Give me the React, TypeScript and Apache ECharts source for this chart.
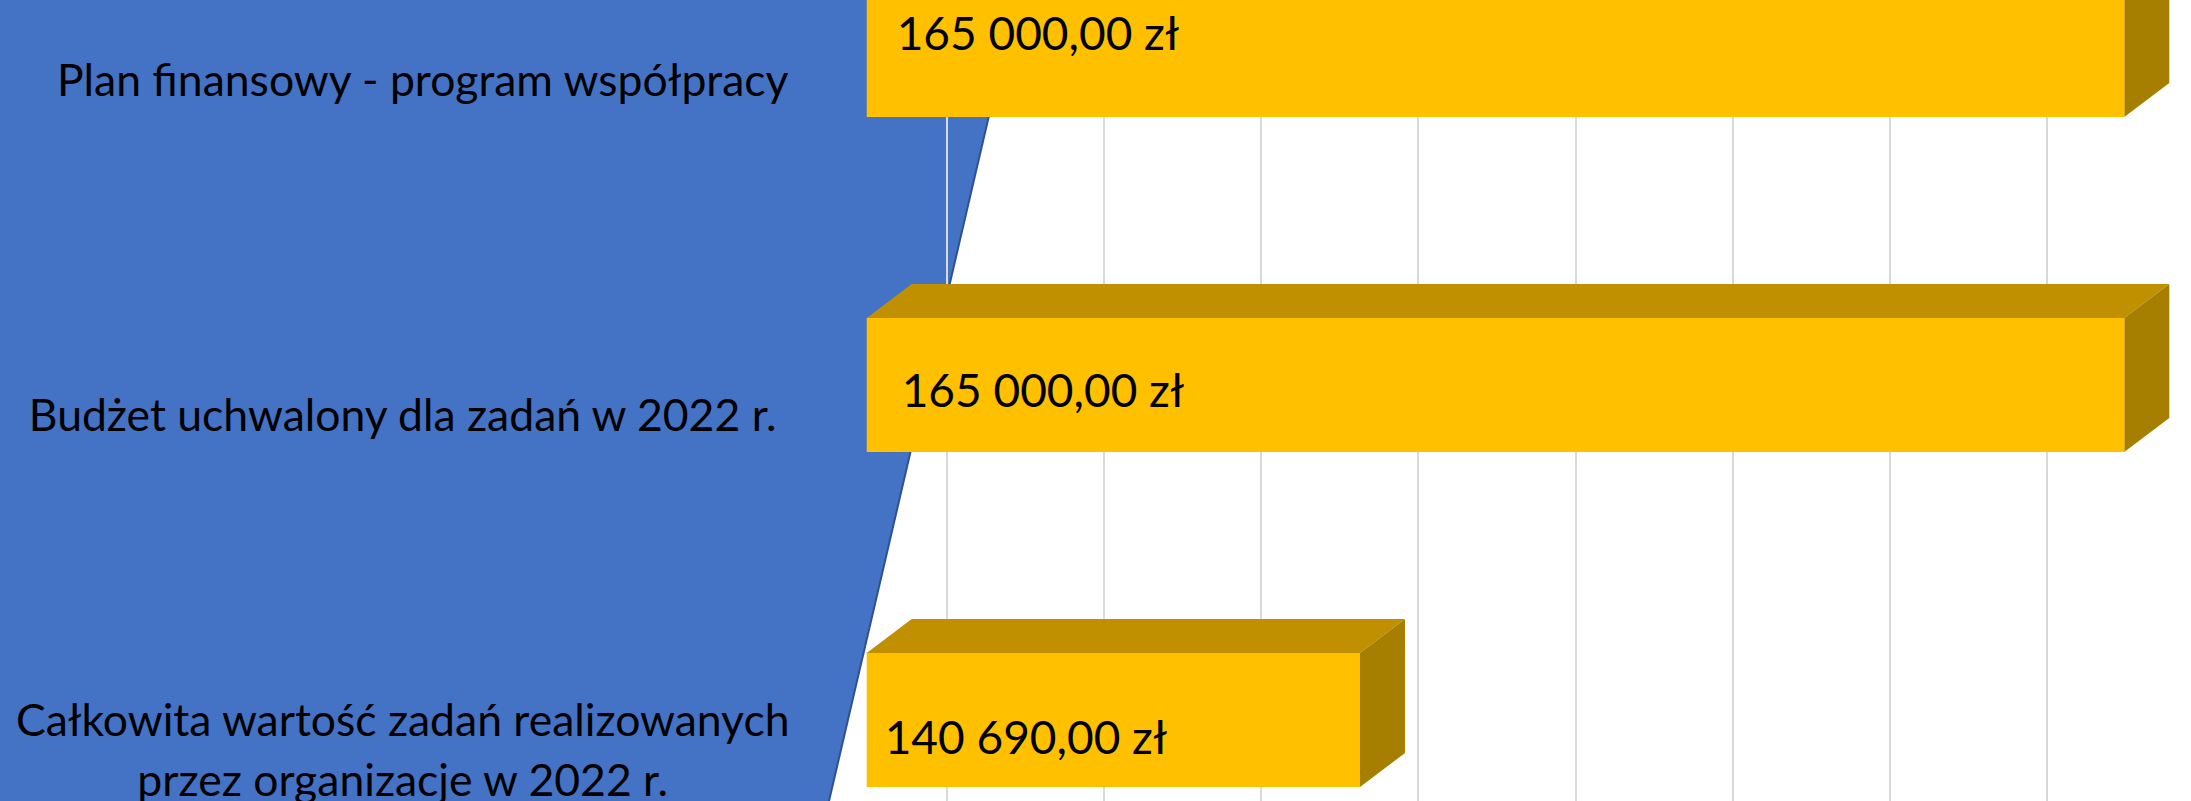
import { useEffect, useRef } from "react";
import * as echarts from "echarts";

// ---- data ----
const CATEGORIES = [
  "Plan finansowy - program współpracy",
  "Budżet uchwalony dla zadań w 2022 r.",
  "Całkowita wartość zadań realizowanych\nprzez organizacje w 2022 r.",
];
const VALUES = [165000, 165000, 140690];
const AXIS_MIN = 125000;
const AXIS_MAX = 170000;
const GRIDLINE_MIN = 0;
const GRIDLINE_MAX = 35000;
const GRIDLINE_STEP = 5000;

// ---- styles / layout ----
const FRONT = "#FFC000";
const TOP = "#C09000";
const SIDE = "#A67F00";
const BLUE = "#4472C4";
const BLUE_EDGE = "#2F528F";
const GRID_COLOR = "#D9D9D9";
const FONT = "Lato";
const DEPTH_X = 45;
const DEPTH_Y = 34;
const LABEL_OFFSETS = [
  [30, -18],
  [35, 4],
  [18, 16],
];
const W = 2191;
const H = 801;
const GRID_LEFT = 866.7;
const GRID_WIDTH = 1414.8;
const GRID_TOP = -117.5;
const GRID_HEIGHT = 1005;

function formatPLN(v: number): string {
  const [i, d] = v.toFixed(2).split(".");
  const withSp = i.replace(/\B(?=(\d{3})+(?!\d))/g, " ");
  return `${withSp},${d} zł`;
}

export default function App() {
  const ref = useRef<HTMLDivElement>(null);
  useEffect(() => {
    if (!ref.current) return;
    const chart = echarts.init(ref.current, null, { renderer: "svg" });
    const option: any = {
      animation: false,
      backgroundColor: "#ffffff",
      graphic: [
        {
          type: "polygon",
          z: -10,
          shape: { points: [[0, 0], [1016, 0], [829, H], [0, H]] },
          style: { fill: BLUE },
        },
        {
          type: "line",
          z: -9,
          shape: { x1: 1016, y1: 0, x2: 829, y2: H },
          style: { stroke: BLUE_EDGE, lineWidth: 2 },
        },
      ],
      grid: [
        { left: GRID_LEFT, width: GRID_WIDTH, top: GRID_TOP, height: GRID_HEIGHT, outerBoundsMode: "none", containLabel: false },
        { left: 946.7, width: 1100, top: 0, height: H, outerBoundsMode: "none", containLabel: false },
        { left: GRID_LEFT, width: GRID_WIDTH, top: GRID_TOP + 28, height: GRID_HEIGHT, outerBoundsMode: "none", containLabel: false },
      ],
      xAxis: [
        {
          type: "value",
          gridIndex: 0,
          min: AXIS_MIN,
          max: AXIS_MAX,
          show: false,
          splitLine: { show: false },
        },
        {
          type: "value",
          gridIndex: 1,
          min: GRIDLINE_MIN,
          max: GRIDLINE_MAX,
          interval: GRIDLINE_STEP,
          axisLine: { show: false },
          axisTick: { show: false },
          axisLabel: { show: false },
          splitLine: { show: true, lineStyle: { color: GRID_COLOR, width: 2 } },
        },
        {
          type: "value",
          gridIndex: 2,
          min: AXIS_MIN,
          max: AXIS_MAX,
          show: false,
          splitLine: { show: false },
        },
      ],
      yAxis: [
        {
          type: "category",
          gridIndex: 0,
          data: CATEGORIES,
          inverse: true,
          axisLine: { show: false },
          axisTick: { show: false },
          axisLabel: { show: false },
          splitLine: { show: false },
        },
        {
          type: "category",
          gridIndex: 1,
          data: CATEGORIES,
          show: false,
          splitLine: { show: false },
        },
        {
          type: "category",
          gridIndex: 2,
          data: CATEGORIES,
          inverse: true,
          axisLine: { show: false },
          axisTick: { show: false },
          splitLine: { show: false },
          axisLabel: {
            show: true,
            align: "center",
            margin: 464,
            fontFamily: FONT,
            fontSize: 44.5,
            lineHeight: 60,
            color: "#000",
            formatter: (val: string, idx: number) => (idx === 0 ? `{p|${val}}` : val),
            rich: {
              p: { fontFamily: FONT, fontSize: 44.5, lineHeight: 60, color: "#000", padding: [0, 0, 0, 40] },
            },
          },
        },
      ],
      series: [
        {
          type: "custom",
          xAxisIndex: 0,
          yAxisIndex: 0,
          clip: false,
          encode: { x: 0, y: 1 },
          data: VALUES.map((v, i) => [v, i]),
          renderItem: (params: any, api: any) => {
            const v = api.value(0);
            const c = api.value(1);
            const idx = params.dataIndex;
            const p0 = api.coord([AXIS_MIN, c]);
            const p1 = api.coord([v, c]);
            const band = api.size([0, 1])[1];
            const h = band * 0.4;
            const x0 = p0[0];
            const x1 = p1[0];
            const yt = p0[1] - h / 2;
            const yb = p0[1] + h / 2;
            const off = LABEL_OFFSETS[idx] || [30, 0];
            return {
              type: "group",
              children: [
                {
                  type: "polygon",
                  shape: { points: [[x0, yt], [x0 + DEPTH_X, yt - DEPTH_Y], [x1 + DEPTH_X, yt - DEPTH_Y], [x1, yt]] },
                  style: { fill: TOP },
                },
                {
                  type: "polygon",
                  shape: { points: [[x1, yt], [x1 + DEPTH_X, yt - DEPTH_Y], [x1 + DEPTH_X, yb - DEPTH_Y], [x1, yb]] },
                  style: { fill: SIDE },
                },
                {
                  type: "rect",
                  shape: { x: x0, y: yt, width: x1 - x0, height: h },
                  style: { fill: FRONT },
                },
                {
                  type: "text",
                  style: {
                    text: formatPLN(v),
                    x: x0 + off[0],
                    y: p0[1] + off[1],
                    verticalAlign: "middle",
                    align: "left",
                    fontSize: 46,
                    fontFamily: FONT,
                    fill: "#000",
                  },
                },
              ],
            };
          },
        },
      ],
    };
    chart.setOption(option);
    return () => chart.dispose();
  }, []);
  return (
    <div
      ref={ref}
      style={{ position: "absolute", left: 0, top: 0, width: W, height: H }}
    />
  );
}
